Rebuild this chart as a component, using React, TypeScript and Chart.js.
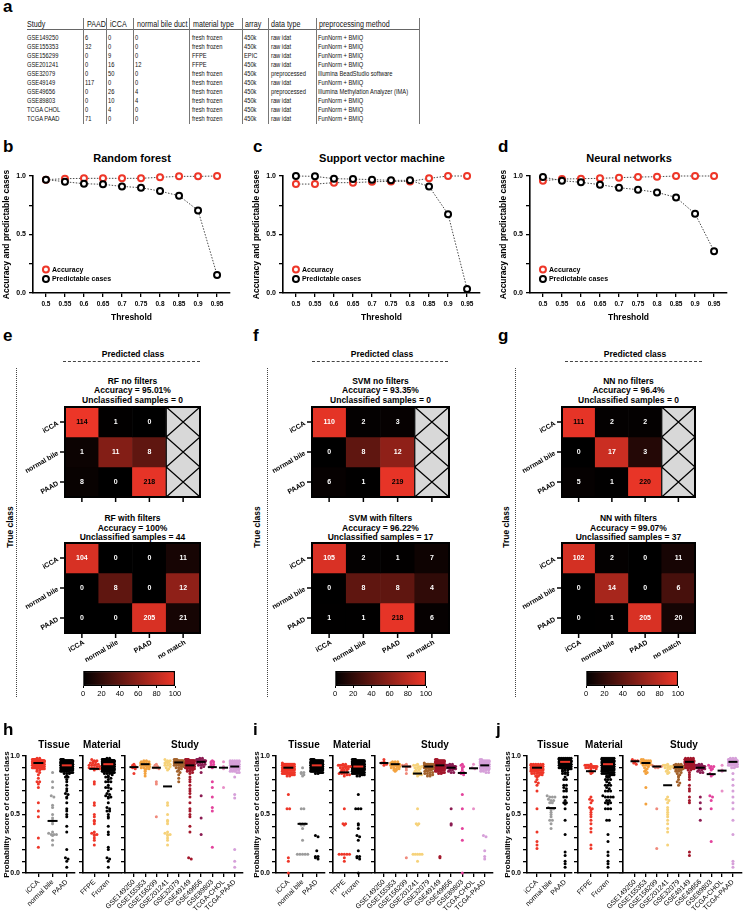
import React, { useEffect, useRef } from 'react';
import { Chart, registerables } from 'chart.js';

Chart.register(...registerables);

const FONT = "'Liberation Sans', Arial, Helvetica, sans-serif";
Chart.defaults.font.family = FONT;
Chart.defaults.color = '#000';

/* ---------------- a: table ---------------- */
const TABLE_HEADERS = ['Study', 'PAAD', 'iCCA', 'normal bile duct', 'material type', 'array', 'data type', 'preprocessing method'];
const TABLE_STUDY = ['GSE149250', 'GSE155353', 'GSE156299', 'GSE201241', 'GSE32079', 'GSE49149', 'GSE49656', 'GSE89803', 'TCGA CHOL', 'TCGA PAAD'];
const TABLE_PAAD = [6, 32, 0, 0, 0, 117, 0, 0, 0, 71];
const TABLE_ICCA = [0, 0, 9, 16, 50, 0, 26, 10, 4, 0];
const TABLE_NORMAL = [0, 0, 0, 12, 0, 0, 4, 4, 0, 0];
const TABLE_MATERIAL = ['fresh frozen', 'fresh frozen', 'FFPE', 'FFPE', 'fresh frozen', 'fresh frozen', 'fresh frozen', 'fresh frozen', 'fresh frozen', 'fresh frozen'];
const TABLE_ARRAY = ['450k', '450k', 'EPIC', '450k', '450k', '450k', '450k', '450k', '450k', '450k'];
const TABLE_DATATYPE = ['raw idat', 'raw idat', 'raw idat', 'raw idat', 'preprocessed', 'raw idat', 'preprocessed', 'raw idat', 'raw idat', 'raw idat'];
const TABLE_METHOD = ['FunNorm + BMIQ', 'FunNorm + BMIQ', 'FunNorm + BMIQ', 'FunNorm + BMIQ', 'Illumina BeadStudio software', 'FunNorm + BMIQ', 'Illumina Methylation Analyzer (IMA)', 'FunNorm + BMIQ', 'FunNorm + BMIQ', 'FunNorm + BMIQ'];

/* ---------------- b-d: threshold curves ---------------- */
const THRESHOLDS = [0.5, 0.55, 0.6, 0.65, 0.7, 0.75, 0.8, 0.85, 0.9, 0.95];
const THRESHOLD_LABELS = ['0.5', '0.55', '0.6', '0.65', '0.7', '0.75', '0.8', '0.85', '0.9', '0.95'];
const RF_ACCURACY = [0.969, 0.977, 0.98, 0.98, 0.98, 0.98, 0.989, 0.997, 0.997, 1.0];
const RF_PREDICTABLE = [0.969, 0.951, 0.934, 0.929, 0.911, 0.9, 0.871, 0.831, 0.706, 0.154];
const SVM_ACCURACY = [0.931, 0.931, 0.943, 0.943, 0.951, 0.954, 0.954, 0.98, 1.0, 1.0];
const SVM_PREDICTABLE = [1.0, 0.997, 0.977, 0.974, 0.969, 0.963, 0.963, 0.911, 0.674, 0.034];
const NN_ACCURACY = [0.96, 0.974, 0.977, 0.98, 0.986, 0.991, 0.994, 1.0, 1.0, 1.0];
const NN_PREDICTABLE = [0.991, 0.96, 0.946, 0.926, 0.9, 0.883, 0.86, 0.817, 0.677, 0.357];
const LINE_Y_TICKS = [0, 0.25, 0.5, 0.75, 1];
const LINE_Y_LABELED = [0, 0.5, 1];
const LINE_TITLES = ['Random forest', 'Support vector machine', 'Neural networks'];

/* ---------------- e-g: confusion matrices ---------------- */
const TRUE_CLASSES = ['iCCA', 'normal bile', 'PAAD'];
const PRED_CLASSES = ['iCCA', 'normal bile', 'PAAD', 'no match'];
const MODEL_NAMES = ['RF', 'SVM', 'NN'];
const RF_NO_FILTERS = [[114, 1, 0], [1, 11, 8], [8, 0, 218]];
const RF_WITH_FILTERS = [[104, 0, 0, 11], [0, 8, 0, 12], [0, 0, 205, 21]];
const SVM_NO_FILTERS = [[110, 2, 3], [0, 8, 12], [6, 1, 219]];
const SVM_WITH_FILTERS = [[105, 2, 1, 7], [0, 8, 8, 4], [1, 1, 218, 6]];
const NN_NO_FILTERS = [[111, 2, 2], [0, 17, 3], [5, 1, 220]];
const NN_WITH_FILTERS = [[102, 2, 0, 11], [0, 14, 0, 6], [0, 1, 205, 20]];
const ACCURACY_NO_FILTERS = ['95.01%', '93.35%', '96.4%'];
const ACCURACY_WITH_FILTERS = ['100%', '96.22%', '99.07%'];
const UNCLASSIFIED_NO_FILTERS = [0, 0, 0];
const UNCLASSIFIED_WITH_FILTERS = [44, 17, 37];
const COLORBAR_TICKS = [0, 20, 40, 60, 80, 100];

/* ---------------- h-j: probability scores (percent) ---------------- */
const TISSUES = ['iCCA', 'normal bile', 'PAAD'];
const MATERIALS = ['FFPE', 'Frozen'];
const STUDIES = ['GSE149250', 'GSE155353', 'GSE156299', 'GSE201241', 'GSE32079', 'GSE49149', 'GSE49656', 'GSE89803', 'TCGA-CHOL', 'TCGA-PAAD'];
const STUDY_MATERIAL = ['Frozen', 'Frozen', 'FFPE', 'FFPE', 'Frozen', 'Frozen', 'Frozen', 'Frozen', 'Frozen', 'Frozen'];
const STRIP_Y_TICKS = [0, 0.1, 0.2, 0.3, 0.4, 0.5, 0.6, 0.7, 0.8, 0.9, 1];
const STRIP_Y_LABELED = [0, 0.5, 1];

// Random forest
const RF_GSE149250_PAAD = [93, 92, 91, 90, 89, 85];
const RF_GSE155353_PAAD = [96, 96, 95, 95, 95, 95, 94, 94, 94, 94, 93, 93, 93, 93, 93, 93, 93, 92, 92, 92, 92, 91, 91, 91, 90, 90, 89, 89, 88, 87, 85, 83];
const RF_GSE156299_ICCA = [93, 92, 91, 90, 90, 89, 78, 76, 48];
const RF_GSE201241_ICCA = [97, 96, 96, 95, 95, 94, 94, 93, 92, 92, 91, 90, 89, 88, 60, 30];
const RF_GSE201241_NORMAL = [58, 50, 45, 44, 42, 35, 34, 33, 33, 32, 28, 24];
const RF_GSE32079_ICCA = [97, 97, 97, 97, 96, 96, 96, 96, 96, 96, 96, 95, 95, 95, 95, 95, 95, 95, 95, 95, 95, 95, 95, 95, 95, 94, 94, 94, 94, 94, 94, 94, 93, 93, 93, 93, 92, 92, 92, 91, 91, 90, 90, 89, 88, 87, 86, 84, 81, 78];
const RF_GSE49149_PAAD = [
  97, 97, 97, 97, 97, 97,
  96, 96, 96, 96, 96, 96, 96, 96, 96, 96,
  95, 95, 95, 95, 95, 95, 95, 95, 95, 95, 95, 95,
  94, 94, 94, 94, 94, 94, 94, 94, 94, 94, 94, 94, 94, 94,
  93, 93, 93, 93, 93, 93, 93, 93, 93, 93, 93, 93, 93, 93,
  92, 92, 92, 92, 92, 92, 92, 92, 92, 92, 92, 92, 92, 92,
  91, 91, 91, 91, 91, 91, 91, 91, 91, 91,
  90, 90, 90, 90, 90, 90, 90, 90,
  89, 89, 89, 89, 89,
  88, 88, 88, 87, 87, 86, 85,
  82, 80, 78, 75, 72, 70, 68, 65, 60, 55, 53, 50, 48, 40, 35, 13, 12,
];
const RF_GSE49656_ICCA = [98, 98, 97, 97, 97, 97, 97, 96, 96, 96, 96, 96, 96, 96, 95, 95, 95, 95, 94, 94, 93, 93, 92, 92, 91, 90];
const RF_GSE49656_NORMAL = [86, 66, 47, 33];
const RF_GSE89803_ICCA = [96, 95, 95, 94, 93, 92, 91, 90, 53, 22];
const RF_GSE89803_NORMAL = [78, 73, 65, 56];
const RF_TCGACHOL_ICCA = [95, 91, 89, 73];
const RF_TCGAPAAD_PAAD = [
  96, 96, 96, 96, 96,
  95, 95, 95, 95, 95, 95, 95,
  94, 94, 94, 94, 94, 94, 94,
  93, 93, 93, 93, 93, 93, 93, 93,
  92, 92, 92, 92, 92, 92, 92, 92,
  91, 91, 91, 91, 91, 91, 91, 91,
  90, 90, 90, 90, 90, 90, 90,
  89, 89, 89, 89, 89, 89,
  88, 88, 88, 88, 87, 87, 87, 86, 86,
  82, 67, 64, 20, 10, 5,
];

// Support vector machine
const SVM_GSE149250_PAAD = [97, 95, 94, 94, 93, 92];
const SVM_GSE155353_PAAD = [95, 95, 95, 94, 94, 94, 94, 94, 93, 93, 93, 93, 93, 93, 93, 93, 93, 92, 92, 92, 92, 92, 91, 91, 91, 90, 90, 89, 89, 88, 88, 87];
const SVM_GSE156299_ICCA = [93, 92, 92, 91, 91, 90, 88, 85, 13];
const SVM_GSE201241_ICCA = [93, 92, 92, 91, 91, 90, 90, 89, 88, 88, 87, 86, 85, 84, 55, 10];
const SVM_GSE201241_NORMAL = [86, 85, 84, 83, 42, 42, 41, 16, 16, 16, 16, 16];
const SVM_GSE32079_ICCA = [94, 93, 93, 93, 93, 93, 93, 92, 92, 92, 92, 92, 92, 92, 92, 92, 92, 91, 91, 91, 91, 91, 91, 91, 91, 91, 91, 90, 90, 90, 90, 90, 90, 89, 89, 89, 89, 88, 88, 88, 87, 87, 86, 86, 85, 85, 84, 84, 83, 83];
const SVM_GSE49149_PAAD = [
  97, 97, 97,
  96, 96, 96, 96, 96, 96, 96, 96,
  95, 95, 95, 95, 95, 95, 95, 95, 95, 95, 95, 95,
  94, 94, 94, 94, 94, 94, 94, 94, 94, 94, 94, 94, 94, 94,
  93, 93, 93, 93, 93, 93, 93, 93, 93, 93, 93, 93, 93, 93,
  92, 92, 92, 92, 92, 92, 92, 92, 92, 92, 92, 92, 92, 92,
  91, 91, 91, 91, 91, 91, 91, 91, 91, 91, 91, 91, 91, 91,
  90, 90, 90, 90, 90, 90, 90, 90, 90, 90, 90, 90,
  89, 89, 89, 89, 89, 89, 89, 89, 89,
  88, 88, 88, 88, 88, 88,
  87, 87, 87, 87, 86, 86, 86, 85, 85,
  14, 13,
];
const SVM_GSE49656_ICCA = [93, 93, 92, 92, 92, 92, 91, 91, 91, 91, 91, 91, 91, 90, 90, 90, 90, 90, 89, 89, 89, 88, 88, 87, 86, 86];
const SVM_GSE49656_NORMAL = [90, 55, 42, 41];
const SVM_GSE89803_ICCA = [93, 92, 91, 90, 88, 86, 85, 84, 67, 0];
const SVM_GSE89803_NORMAL = [86, 55, 38, 28];
const SVM_TCGACHOL_ICCA = [93, 90, 89, 55];
const SVM_TCGAPAAD_PAAD = [
  97, 97,
  96, 96, 96, 96, 96,
  95, 95, 95, 95, 95, 95, 95,
  94, 94, 94, 94, 94, 94, 94, 94,
  93, 93, 93, 93, 93, 93, 93, 93,
  92, 92, 92, 92, 92, 92, 92, 92,
  91, 91, 91, 91, 91, 91, 91, 91,
  90, 90, 90, 90, 90, 90, 90,
  89, 89, 89, 89, 89,
  88, 88, 88, 88, 87, 87, 86, 86,
  32, 31, 19, 14, 12,
];

// Neural networks
const NN_GSE149250_PAAD = [97, 96, 96, 95, 94, 93];
const NN_GSE155353_PAAD = [97, 97, 96, 96, 96, 96, 95, 95, 95, 95, 95, 95, 95, 94, 94, 94, 94, 94, 93, 93, 93, 92, 92, 91, 90, 89, 88, 87, 86, 85, 73, 59];
const NN_GSE156299_ICCA = [92, 91, 91, 91, 91, 90, 90, 55, 21];
const NN_GSE201241_ICCA = [93, 92, 92, 92, 91, 91, 91, 90, 90, 89, 88, 87, 86, 85, 35, 24];
const NN_GSE201241_NORMAL = [65, 63, 62, 60, 56, 54, 52, 50, 48, 45, 42, 38];
const NN_GSE32079_ICCA = [93, 93, 93, 92, 92, 92, 92, 92, 92, 92, 92, 91, 91, 91, 91, 91, 91, 91, 91, 91, 91, 91, 91, 91, 91, 90, 90, 90, 90, 90, 90, 90, 89, 89, 89, 89, 88, 88, 88, 87, 87, 86, 85, 84, 83, 82, 80, 78, 77, 75];
const NN_GSE49149_PAAD = [
  98, 98, 98, 98,
  97, 97, 97, 97, 97, 97, 97, 97, 97, 97, 97, 97, 97, 97,
  96, 96, 96, 96, 96, 96, 96, 96, 96, 96, 96, 96, 96, 96, 96, 96, 96, 96, 96, 96,
  95, 95, 95, 95, 95, 95, 95, 95, 95, 95, 95, 95, 95, 95, 95, 95, 95, 95, 95, 95, 95, 95,
  94, 94, 94, 94, 94, 94, 94, 94, 94, 94, 94, 94, 94, 94,
  93, 93, 93, 93, 93, 93, 93, 93, 93, 93,
  92, 92, 92, 92, 92, 92, 92, 92,
  91, 91, 91, 91, 91,
  90, 90, 90, 90, 89, 89, 88, 88, 86, 84,
  82, 80, 75, 72, 70, 65, 62, 60, 18, 15,
];
const NN_GSE49656_ICCA = [93, 93, 92, 92, 92, 92, 91, 91, 91, 91, 91, 91, 91, 90, 90, 90, 90, 90, 89, 89, 89, 88, 88, 87, 86, 86];
const NN_GSE49656_NORMAL = [65, 60, 55, 45];
const NN_GSE89803_ICCA = [92, 91, 91, 90, 89, 88, 85, 84, 83, 27];
const NN_GSE89803_NORMAL = [66, 65, 62, 55];
const NN_TCGACHOL_ICCA = [92, 88, 87, 70];
const NN_TCGAPAAD_PAAD = [
  98, 98, 98,
  97, 97, 97, 97, 97, 97, 97, 97, 97, 97,
  96, 96, 96, 96, 96, 96, 96, 96, 96, 96, 96, 96,
  95, 95, 95, 95, 95, 95, 95, 95, 95, 95, 95, 95,
  94, 94, 94, 94, 94, 94, 94, 94,
  93, 93, 93, 93, 93, 93,
  92, 92, 92, 92, 91, 91, 90, 90,
  85, 80, 75, 70, 65, 60, 55, 45, 33, 10, 8, 5,
];

/* ---------------- colours ---------------- */
const RED_RGB = [238, 54, 40];
const RED_HEX = '#ee3628';
const GRAY_CELL = '#d8d8d8';
const TISSUE_COLORS = [RED_HEX, '#9c9c9c', '#000000'];
const TISSUE_MEDIAN = ['#000000', '#000000', RED_HEX];
const MATERIAL_COLORS = [RED_HEX, '#000000'];
const MATERIAL_MEDIAN = ['#000000', RED_HEX];
const STUDY_COLORS = ['#ec3a2e', '#f3a23e', '#f08a7c', '#f6d27a', '#a3622c', '#a3172b', '#8b1c52', '#e3439c', '#e88fc7', '#d6a0d9'];
const STUDY_MEDIAN = STUDIES.map(() => '#000000');

function heat(p: number) {
  const f = Math.max(0, Math.min(100, p)) / 100;
  return `rgb(${Math.round(RED_RGB[0] * f)},${Math.round(RED_RGB[1] * f)},${Math.round(RED_RGB[2] * f)})`;
}

/* ---------------- helpers ---------------- */
type Box = { l: number; t: number; w: number; h: number };
type Plot = { l: number; t: number; r: number; b: number };

function padFor(box: Box, plot: Plot, yW: number, xH: number) {
  return {
    left: plot.l - box.l - yW,
    top: plot.t - box.t,
    right: box.l + box.w - plot.r,
    bottom: box.t + box.h - plot.b - xH,
  };
}
function fitW(w: number) {
  return (s: any) => { s.width = w; s.paddingTop = 0; s.paddingBottom = 0; s.paddingLeft = 0; s.paddingRight = 0; };
}
function fitH(h: number) {
  return (s: any) => { s.height = h; s.paddingTop = 0; s.paddingBottom = 0; s.paddingLeft = 0; s.paddingRight = 0; };
}
const GRID = { display: true, drawOnChartArea: false, drawTicks: true, tickLength: 4, color: '#000', lineWidth: 1.3 };
const BORDER = { display: true, color: '#000', width: 1.6 };
const BASE = { responsive: false, animation: false, events: [], devicePixelRatio: 1 };
const NOPLUG = { legend: { display: false }, tooltip: { enabled: false }, title: { display: false } };

/* ---------------- plugins ---------------- */
const lineLegendPlugin = {
  id: 'lineLegend',
  afterDatasetsDraw(chart: any) {
    const { ctx, scales } = chart;
    const cx = scales.x.getPixelForValue(THRESHOLDS[0]);
    const items: [string, string, number][] = [['Accuracy', RED_HEX, 0.2], ['Predictable cases', '#000', 0.12]];
    ctx.save();
    items.forEach(([label, col, yv]) => {
      const cy = scales.y.getPixelForValue(yv);
      ctx.beginPath();
      ctx.arc(cx, cy, 3, 0, Math.PI * 2);
      ctx.fillStyle = '#fff';
      ctx.fill();
      ctx.lineWidth = 2;
      ctx.strokeStyle = col;
      ctx.stroke();
      ctx.fillStyle = '#000';
      ctx.font = `bold 7px ${FONT}`;
      ctx.textBaseline = 'middle';
      ctx.textAlign = 'left';
      ctx.fillText(label, cx + 6, cy + 0.5);
    });
    ctx.restore();
  },
};

const swarmPlugin = {
  id: 'swarm',
  afterDatasetsUpdate(chart: any, _args: any, opts: any) {
    chart.data.datasets.forEach((_ds: any, di: number) => {
      const meta = chart.getDatasetMeta(di);
      const bins = new Map<number, any[]>();
      meta.data.forEach((el: any) => {
        const k = Math.round(el.y / opts.bin);
        if (!bins.has(k)) bins.set(k, []);
        bins.get(k)!.push(el);
      });
      bins.forEach((list) => {
        const n = list.length;
        if (n < 2) return;
        list.sort((a: any, b: any) => a.y - b.y);
        const sp = Math.min(opts.gap, (2 * opts.half) / (n - 1));
        list.forEach((el: any, j: number) => { el.x += (j - (n - 1) / 2) * sp; });
      });
    });
  },
};

const medianPlugin = {
  id: 'median',
  afterDatasetsDraw(chart: any, _args: any, opts: any) {
    const { ctx, scales } = chart;
    ctx.save();
    chart.data.datasets.forEach((ds: any, i: number) => {
      const vals = ds.data.map((p: any) => p.y).sort((a: number, b: number) => a - b);
      const n = vals.length;
      if (!n) return;
      const med = n % 2 ? vals[(n - 1) / 2] : (vals[n / 2 - 1] + vals[n / 2]) / 2;
      const px = scales.x.getPixelForValue(i);
      const py = scales.y.getPixelForValue(med);
      ctx.strokeStyle = ds.medianColor;
      ctx.lineWidth = 2;
      ctx.beginPath();
      ctx.moveTo(px - opts.w, py);
      ctx.lineTo(px + opts.w, py);
      ctx.stroke();
    });
    ctx.restore();
  },
};

const matrixPlugin = {
  id: 'matrixDeco',
  afterDatasetsDraw(chart: any, _args: any, opts: any) {
    const { ctx, chartArea: ca, scales } = chart;
    ctx.save();
    chart.data.datasets.forEach((ds: any, r: number) => {
      const meta = chart.getDatasetMeta(r);
      meta.data.forEach((el: any, c: number) => {
        const v = ds.counts[c];
        const top = Math.min(el.y, el.base);
        const bot = Math.max(el.y, el.base);
        const left = el.x - el.width / 2;
        const right = el.x + el.width / 2;
        if (v == null) {
          ctx.strokeStyle = '#000';
          ctx.lineWidth = 1.2;
          ctx.beginPath();
          ctx.moveTo(left, top); ctx.lineTo(right, bot);
          ctx.moveTo(right, top); ctx.lineTo(left, bot);
          ctx.moveTo(left, top); ctx.lineTo(left, bot);
          ctx.stroke();
        } else {
          ctx.fillStyle = ds.pcts[c] > 96 ? '#000' : '#fff';
          ctx.font = `bold 7px ${FONT}`;
          ctx.textAlign = 'center';
          ctx.textBaseline = 'middle';
          ctx.fillText(String(v), el.x, (top + bot) / 2 + 0.5);
        }
      });
    });
    ctx.strokeStyle = '#000';
    ctx.lineWidth = 2;
    ctx.strokeRect(ca.left, ca.top, ca.right - ca.left, ca.bottom - ca.top);
    ctx.lineWidth = 1.5;
    ctx.fillStyle = '#000';
    ctx.font = `bold 7px ${FONT}`;
    chart.data.labels.forEach((lab: string, c: number) => {
      const px = scales.x.getPixelForValue(c);
      ctx.beginPath(); ctx.moveTo(px, ca.bottom); ctx.lineTo(px, ca.bottom + 5); ctx.stroke();
      if (opts.showX) {
        ctx.save();
        ctx.translate(px + 2, ca.bottom + 9);
        ctx.rotate(-Math.PI / 6);
        ctx.textAlign = 'right';
        ctx.textBaseline = 'middle';
        ctx.fillText(lab, 0, 0);
        ctx.restore();
      }
    });
    TRUE_CLASSES.forEach((lab, r) => {
      const py = scales.y.getPixelForValue(r + 0.5);
      ctx.beginPath(); ctx.moveTo(ca.left - 5, py); ctx.lineTo(ca.left, py); ctx.stroke();
      ctx.save();
      ctx.translate(ca.left - 7, py + 1);
      ctx.rotate(-Math.PI / 6);
      ctx.textAlign = 'right';
      ctx.textBaseline = 'middle';
      ctx.fillText(lab, 0, 0);
      ctx.restore();
    });
    ctx.restore();
  },
};

/* ---------------- chart configs ---------------- */
const LINE_X_MIN = 0.466;
const LINE_X_MAX = 0.984;

function lineConfig(pred: number[], acc: number[], box: Box) {
  const plot = { l: box.l + 33, t: 176, r: box.l + 230, b: 293 };
  const yW = 33;
  const xH = 32;
  const ds = (vals: number[], color: string, label: string) => ({
    label,
    data: THRESHOLDS.map((t, i) => ({ x: t, y: vals[i] })),
    borderColor: '#4a4a4a',
    borderWidth: 1,
    borderDash: [1.5, 1.5],
    pointRadius: 3,
    pointBorderWidth: 2,
    pointBorderColor: color,
    pointBackgroundColor: '#fff',
    clip: false,
    tension: 0,
  });
  return {
    type: 'line',
    data: { datasets: [ds(pred, '#000', 'Predictable cases'), ds(acc, RED_HEX, 'Accuracy')] },
    options: {
      ...BASE,
      layout: { padding: padFor(box, plot, yW, xH), autoPadding: false },
      plugins: NOPLUG,
      scales: {
        x: {
          type: 'linear', min: LINE_X_MIN, max: LINE_X_MAX,
          afterBuildTicks: (s: any) => { s.ticks = THRESHOLDS.map((v) => ({ value: v })); },
          afterFit: fitH(xH),
          ticks: { autoSkip: false, maxRotation: 0, padding: 3, font: { size: 6.5, weight: 'bold' }, color: '#000', callback: (v: number) => THRESHOLD_LABELS[THRESHOLDS.indexOf(v)] ?? '' },
          grid: GRID, border: BORDER,
          title: { display: true, text: 'Threshold', color: '#000', font: { size: 8.5, weight: 'bold' }, padding: { top: 0, bottom: 2 } },
        },
        y: {
          type: 'linear', min: 0, max: 1,
          afterBuildTicks: (s: any) => { s.ticks = LINE_Y_TICKS.map((v) => ({ value: v })); },
          afterFit: fitW(yW),
          ticks: { padding: 3, font: { size: 7, weight: 'bold' }, color: '#000', callback: (v: number) => (LINE_Y_LABELED.includes(v) ? v.toFixed(1) : '') },
          grid: GRID, border: BORDER,
          title: { display: true, text: 'Accuracy and predictable cases', color: '#000', font: { size: 8.5, weight: 'bold' }, padding: { top: 2, bottom: 0 } },
        },
      },
    },
    plugins: [lineLegendPlugin],
  };
}

function matrixConfig(mat: number[][], filtered: boolean, showX: boolean, box: Box, plot: Plot) {
  const datasets = TRUE_CLASSES.map((name, r) => {
    const row = mat[r];
    const total = row.reduce((a, b) => a + b, 0);
    const counts: (number | null)[] = filtered ? row : [...row, null];
    const pcts = counts.map((v) => (v == null ? null : (100 * v) / total));
    return {
      label: name,
      data: PRED_CLASSES.map(() => 1),
      counts,
      pcts,
      backgroundColor: pcts.map((p) => (p == null ? GRAY_CELL : heat(p))),
      borderWidth: 0,
      barPercentage: 1,
      categoryPercentage: 1,
    };
  });
  return {
    type: 'bar',
    data: { labels: PRED_CLASSES, datasets },
    options: {
      ...BASE,
      layout: { padding: padFor(box, plot, 0, 0), autoPadding: false },
      plugins: { ...NOPLUG, matrixDeco: { showX } },
      scales: {
        x: { type: 'category', display: false, stacked: true, offset: true },
        y: { type: 'linear', display: false, stacked: true, min: 0, max: TRUE_CLASSES.length, reverse: true },
      },
    },
    plugins: [matrixPlugin],
  };
}

function colorbarConfig(box: Box, plot: Plot) {
  const xH = box.t + box.h - plot.b;
  return {
    type: 'bar',
    data: {
      labels: ['%'],
      datasets: [{
        data: [[COLORBAR_TICKS[0], COLORBAR_TICKS[COLORBAR_TICKS.length - 1]]],
        backgroundColor: (c: any) => {
          const ch = c.chart;
          const ca = ch.chartArea;
          if (!ca) return '#000';
          const g = ch.ctx.createLinearGradient(ca.left, 0, ca.right, 0);
          g.addColorStop(0, '#000');
          g.addColorStop(1, RED_HEX);
          return g;
        },
        borderColor: '#000', borderWidth: 1.5, borderSkipped: false, barPercentage: 1, categoryPercentage: 1,
      }],
    },
    options: {
      ...BASE,
      indexAxis: 'y',
      layout: { padding: padFor(box, plot, 0, xH), autoPadding: false },
      plugins: NOPLUG,
      scales: {
        x: {
          type: 'linear', min: 0, max: 100,
          afterBuildTicks: (s: any) => { s.ticks = COLORBAR_TICKS.map((v) => ({ value: v })); },
          afterFit: fitH(xH),
          ticks: { padding: 1, font: { size: 7.5 }, color: '#000', maxRotation: 0, autoSkip: false },
          grid: { display: true, drawOnChartArea: false, drawTicks: true, tickLength: 2, color: '#000', lineWidth: 1 },
          border: { display: false },
        },
        y: { type: 'category', display: false, offset: true },
      },
    },
  };
}

function stripConfig(o: any) {
  const box = { l: o.boxL, t: 748, w: o.boxW, h: 169 };
  const plot = { l: o.l, t: 756, r: o.r, b: 873 };
  const xH = box.t + box.h - plot.b;
  return {
    type: 'scatter',
    data: {
      datasets: o.groups.map((vals: number[], i: number) => ({
        data: vals.map((v) => ({ x: i, y: v / 100 })),
        backgroundColor: o.colors[i],
        borderWidth: 0,
        pointRadius: 1.5,
        clip: false,
        medianColor: o.med[i],
      })),
    },
    options: {
      ...BASE,
      layout: { padding: padFor(box, plot, o.yW, xH), autoPadding: false },
      plugins: { ...NOPLUG, swarm: { half: o.half, bin: 2, gap: 2.6 }, median: { w: o.mw } },
      scales: {
        x: {
          type: 'linear', min: o.xMin, max: o.xMax,
          afterBuildTicks: (s: any) => { s.ticks = o.cats.map((_: string, i: number) => ({ value: i })); },
          afterFit: fitH(xH),
          ticks: { autoSkip: false, minRotation: 45, maxRotation: 45, padding: 1, font: { size: 7 }, color: '#000', callback: (v: number) => o.cats[v] ?? '' },
          grid: GRID, border: BORDER,
        },
        y: {
          type: 'linear', min: 0, max: 1,
          afterBuildTicks: (s: any) => { s.ticks = STRIP_Y_TICKS.map((v) => ({ value: v })); },
          afterFit: fitW(o.yW),
          ticks: { padding: 2, font: { size: 7, weight: 'bold' }, color: '#000', callback: (v: number) => (o.yLabels && STRIP_Y_LABELED.includes(v) ? v.toFixed(1) : '') },
          grid: GRID, border: BORDER,
          title: { display: !!o.yLabels, text: 'Probability score of correct class', color: '#000', font: { size: 8, weight: 'bold' }, padding: { top: 2, bottom: 0 } },
        },
      },
    },
    plugins: [swarmPlugin, medianPlugin],
  };
}

/* ---------------- study groupings ---------------- */
type StudySet = { icca: number[]; normal: number[]; paad: number[] };
const RF_SETS: StudySet[] = [
  { icca: [], normal: [], paad: RF_GSE149250_PAAD },
  { icca: [], normal: [], paad: RF_GSE155353_PAAD },
  { icca: RF_GSE156299_ICCA, normal: [], paad: [] },
  { icca: RF_GSE201241_ICCA, normal: RF_GSE201241_NORMAL, paad: [] },
  { icca: RF_GSE32079_ICCA, normal: [], paad: [] },
  { icca: [], normal: [], paad: RF_GSE49149_PAAD },
  { icca: RF_GSE49656_ICCA, normal: RF_GSE49656_NORMAL, paad: [] },
  { icca: RF_GSE89803_ICCA, normal: RF_GSE89803_NORMAL, paad: [] },
  { icca: RF_TCGACHOL_ICCA, normal: [], paad: [] },
  { icca: [], normal: [], paad: RF_TCGAPAAD_PAAD },
];
const SVM_SETS: StudySet[] = [
  { icca: [], normal: [], paad: SVM_GSE149250_PAAD },
  { icca: [], normal: [], paad: SVM_GSE155353_PAAD },
  { icca: SVM_GSE156299_ICCA, normal: [], paad: [] },
  { icca: SVM_GSE201241_ICCA, normal: SVM_GSE201241_NORMAL, paad: [] },
  { icca: SVM_GSE32079_ICCA, normal: [], paad: [] },
  { icca: [], normal: [], paad: SVM_GSE49149_PAAD },
  { icca: SVM_GSE49656_ICCA, normal: SVM_GSE49656_NORMAL, paad: [] },
  { icca: SVM_GSE89803_ICCA, normal: SVM_GSE89803_NORMAL, paad: [] },
  { icca: SVM_TCGACHOL_ICCA, normal: [], paad: [] },
  { icca: [], normal: [], paad: SVM_TCGAPAAD_PAAD },
];
const NN_SETS: StudySet[] = [
  { icca: [], normal: [], paad: NN_GSE149250_PAAD },
  { icca: [], normal: [], paad: NN_GSE155353_PAAD },
  { icca: NN_GSE156299_ICCA, normal: [], paad: [] },
  { icca: NN_GSE201241_ICCA, normal: NN_GSE201241_NORMAL, paad: [] },
  { icca: NN_GSE32079_ICCA, normal: [], paad: [] },
  { icca: [], normal: [], paad: NN_GSE49149_PAAD },
  { icca: NN_GSE49656_ICCA, normal: NN_GSE49656_NORMAL, paad: [] },
  { icca: NN_GSE89803_ICCA, normal: NN_GSE89803_NORMAL, paad: [] },
  { icca: NN_TCGACHOL_ICCA, normal: [], paad: [] },
  { icca: [], normal: [], paad: NN_TCGAPAAD_PAAD },
];

function groupsFor(sets: StudySet[]) {
  const all = (s: StudySet) => [...s.icca, ...s.normal, ...s.paad];
  return {
    tissue: [sets.flatMap((s) => s.icca), sets.flatMap((s) => s.normal), sets.flatMap((s) => s.paad)],
    material: [
      sets.filter((_, i) => STUDY_MATERIAL[i] === 'FFPE').flatMap(all),
      sets.filter((_, i) => STUDY_MATERIAL[i] !== 'FFPE').flatMap(all),
    ],
    study: sets.map(all),
  };
}

/* ---------------- components ---------------- */
function ChartBox({ box, config }: { box: Box; config: () => any }) {
  const ref = useRef<HTMLCanvasElement | null>(null);
  useEffect(() => {
    const chart = new Chart(ref.current as HTMLCanvasElement, config());
    return () => chart.destroy();
  }, []);
  return (
    <canvas ref={ref} width={box.w} height={box.h}
      style={{ position: 'absolute', left: box.l, top: box.t, width: box.w, height: box.h }} />
  );
}

function Txt({ x, y, s, w = 700, a = 'c', r = 0, sx = 1, f = FONT, color = '#000', children }: any) {
  const tx = a === 'c' ? '-50%' : a === 'r' ? '-100%' : '0%';
  return (
    <div style={{
      position: 'absolute', left: x, top: y, fontSize: s, fontWeight: w, fontFamily: f, color,
      whiteSpace: 'nowrap', lineHeight: 1,
      transformOrigin: a === 'l' ? 'left center' : 'center center',
      transform: `translate(${tx}, -50%)` + (r ? ` rotate(${r}deg)` : '') + (sx !== 1 ? ` scaleX(${sx})` : ''),
    }}>{children}</div>
  );
}

function TablePanel() {
  const sepX = [83, 106, 133, 189, 242, 268, 316, 419];
  const headX = [27, 86.5, 109.5, 136.5, 192.5, 245, 271, 319];
  const textX = [27, 85, 108, 135, 192, 244, 270.5, 318];
  const cols: any[][] = [TABLE_STUDY, TABLE_PAAD, TABLE_ICCA, TABLE_NORMAL, TABLE_MATERIAL, TABLE_ARRAY, TABLE_DATATYPE, TABLE_METHOD];
  return (
    <>
      {TABLE_HEADERS.map((h, i) => (
        <Txt key={'h' + i} x={headX[i]} y={23.5} s={8.5} w={400} a="l" sx={0.84} color="#111">{h}</Txt>
      ))}
      <div style={{ position: 'absolute', left: 27, top: 29, width: 392, height: 0, borderTop: '1px solid #666' }} />
      {sepX.map((x, i) => (
        <div key={'s' + i} style={{ position: 'absolute', left: x, top: 18, width: 0, height: 106, borderLeft: '1px solid #777' }} />
      ))}
      {TABLE_STUDY.map((_, r) =>
        cols.map((col, c) => (
          <Txt key={`c${r}-${c}`} x={textX[c]} y={38 + 9.0 * r} s={7.2} w={400} a="l" sx={0.8} color="#111">{String(col[r])}</Txt>
        ))
      )}
    </>
  );
}

const LINE_PANELS = [
  { letter: 'b', lx: 3, boxL: 0, pred: RF_PREDICTABLE, acc: RF_ACCURACY, title: LINE_TITLES[0], tx: 132 },
  { letter: 'c', lx: 253, boxL: 250, pred: SVM_PREDICTABLE, acc: SVM_ACCURACY, title: LINE_TITLES[1], tx: 382 },
  { letter: 'd', lx: 498, boxL: 497, pred: NN_PREDICTABLE, acc: NN_ACCURACY, title: LINE_TITLES[2], tx: 629 },
];

const MATRIX_PANELS = [
  { letter: 'e', lx: 3, boxL: 0, plotL: 65, plotR: 200, predCx: 133, dashL: 63, dashR: 200, trueX: 10, dotX: 16, cbBoxL: 70, cbL: 83, cbR: 175, nf: RF_NO_FILTERS, wf: RF_WITH_FILTERS, m: 0 },
  { letter: 'f', lx: 253, boxL: 250, plotL: 312, plotR: 449, predCx: 382, dashL: 312, dashR: 448, trueX: 257, dotX: 267, cbBoxL: 322, cbL: 335, cbR: 426, nf: SVM_NO_FILTERS, wf: SVM_WITH_FILTERS, m: 1 },
  { letter: 'g', lx: 498, boxL: 497, plotL: 562, plotR: 695, predCx: 635, dashL: 565, dashR: 702, trueX: 506, dotX: 515, cbBoxL: 573, cbL: 586, cbR: 678, nf: NN_NO_FILTERS, wf: NN_WITH_FILTERS, m: 2 },
];

const STRIP_PANELS = [
  {
    letter: 'h', lx: 3, sets: RF_SETS,
    tissue: { boxL: 0, boxW: 80, l: 26, r: 75, xMin: -0.87, xMax: 2.58, tx: 54 },
    material: { boxL: 68, boxW: 57, l: 83, r: 122, xMin: -0.81, xMax: 1.98, tx: 102 },
    study: { boxL: 100, boxW: 145, l: 125, r: 243, xMin: -0.8, xMax: 9.74, tx: 185 },
  },
  {
    letter: 'i', lx: 253, sets: SVM_SETS,
    tissue: { boxL: 250, boxW: 80, l: 276, r: 325, xMin: -0.87, xMax: 2.58, tx: 304 },
    material: { boxL: 318, boxW: 57, l: 333, r: 372, xMin: -0.81, xMax: 1.98, tx: 352 },
    study: { boxL: 350, boxW: 145, l: 375, r: 493, xMin: -0.8, xMax: 9.74, tx: 435 },
  },
  {
    letter: 'j', lx: 496, sets: NN_SETS,
    tissue: { boxL: 500, boxW: 76, l: 527, r: 572, xMin: -0.71, xMax: 2.49, tx: 553 },
    material: { boxL: 563, boxW: 62, l: 578, r: 622, xMin: -0.76, xMax: 1.82, tx: 604 },
    study: { boxL: 605, boxW: 140, l: 623, r: 742, xMin: -1.1, xMax: 9.83, tx: 684 },
  },
];

export default function App() {
  useEffect(() => { document.body.style.margin = '0'; }, []);
  return (
    <div style={{ position: 'absolute', left: 0, top: 0, width: 745, height: 917, background: '#fff', overflow: 'hidden', fontFamily: FONT }}>
      <Txt x={3} y={6} s={17} a="l">a</Txt>
      <TablePanel />

      {LINE_PANELS.map((p) => (
        <React.Fragment key={p.letter}>
          <Txt x={p.lx} y={146} s={17} a="l">{p.letter}</Txt>
          <Txt x={p.tx} y={158} s={11}>{p.title}</Txt>
          <ChartBox box={{ l: p.boxL, t: 165, w: 245, h: 160 }} config={() => lineConfig(p.pred, p.acc, { l: p.boxL, t: 165, w: 245, h: 160 })} />
        </React.Fragment>
      ))}

      {MATRIX_PANELS.map((p) => {
        const cx = (p.plotL + p.plotR) / 2;
        const topBox = { l: p.boxL, t: 398, w: 245, h: 112 };
        const botBox = { l: p.boxL, t: 535, w: 245, h: 135 };
        const cbBox = { l: p.cbBoxL, t: 666, w: p.cbR - p.cbBoxL + 12, h: 32 };
        const name = MODEL_NAMES[p.m];
        return (
          <React.Fragment key={p.letter}>
            <Txt x={p.lx} y={335} s={17} a="l">{p.letter}</Txt>
            <Txt x={p.predCx} y={354} s={8.5}>Predicted class</Txt>
            <div style={{ position: 'absolute', left: p.dashL, top: 361, width: p.dashR - p.dashL, height: 0, borderTop: '1.2px dashed #444' }} />
            <Txt x={p.trueX} y={527} s={8.5} r={-90}>True class</Txt>
            <div style={{ position: 'absolute', left: p.dotX, top: 368, width: 0, height: 329, borderLeft: '1.3px dotted #444' }} />
            <Txt x={cx} y={381} s={8.5}>{`${name} no filters`}</Txt>
            <Txt x={cx} y={390.3} s={8.5}>{`Accuracy = ${ACCURACY_NO_FILTERS[p.m]}`}</Txt>
            <Txt x={cx} y={399.6} s={8.5}>{`Unclassified samples = ${UNCLASSIFIED_NO_FILTERS[p.m]}`}</Txt>
            <Txt x={cx} y={518} s={8.5}>{`${name} with filters`}</Txt>
            <Txt x={cx} y={527.5} s={8.5}>{`Accuracy = ${ACCURACY_WITH_FILTERS[p.m]}`}</Txt>
            <Txt x={cx} y={537} s={8.5}>{`Unclassified samples = ${UNCLASSIFIED_WITH_FILTERS[p.m]}`}</Txt>
            <ChartBox box={topBox} config={() => matrixConfig(p.nf, false, false, topBox, { l: p.plotL, t: 407, r: p.plotR, b: 497 })} />
            <ChartBox box={botBox} config={() => matrixConfig(p.wf, true, true, botBox, { l: p.plotL, t: 543, r: p.plotR, b: 633 })} />
            <ChartBox box={cbBox} config={() => colorbarConfig(cbBox, { l: p.cbL, t: 671, r: p.cbR, b: 686 })} />
          </React.Fragment>
        );
      })}

      {STRIP_PANELS.map((p) => {
        const g = groupsFor(p.sets);
        return (
          <React.Fragment key={p.letter}>
            <Txt x={p.lx} y={729} s={17} a="l">{p.letter}</Txt>
            <Txt x={p.tissue.tx} y={745} s={10}>Tissue</Txt>
            <Txt x={p.material.tx} y={745} s={10}>Material</Txt>
            <Txt x={p.study.tx} y={745} s={10}>Study</Txt>
            <ChartBox box={{ l: p.tissue.boxL, t: 748, w: p.tissue.boxW, h: 169 }}
              config={() => stripConfig({ ...p.tissue, cats: TISSUES, groups: g.tissue, colors: TISSUE_COLORS, med: TISSUE_MEDIAN, yW: 26, yLabels: true, half: 6, mw: 5 })} />
            <ChartBox box={{ l: p.material.boxL, t: 748, w: p.material.boxW, h: 169 }}
              config={() => stripConfig({ ...p.material, cats: MATERIALS, groups: g.material, colors: MATERIAL_COLORS, med: MATERIAL_MEDIAN, yW: 13, yLabels: false, half: 6, mw: 5 })} />
            <ChartBox box={{ l: p.study.boxL, t: 748, w: p.study.boxW, h: 169 }}
              config={() => stripConfig({ ...p.study, cats: STUDIES, groups: g.study, colors: STUDY_COLORS, med: STUDY_MEDIAN, yW: 13, yLabels: false, half: 4.5, mw: 4.5 })} />
          </React.Fragment>
        );
      })}
    </div>
  );
}
